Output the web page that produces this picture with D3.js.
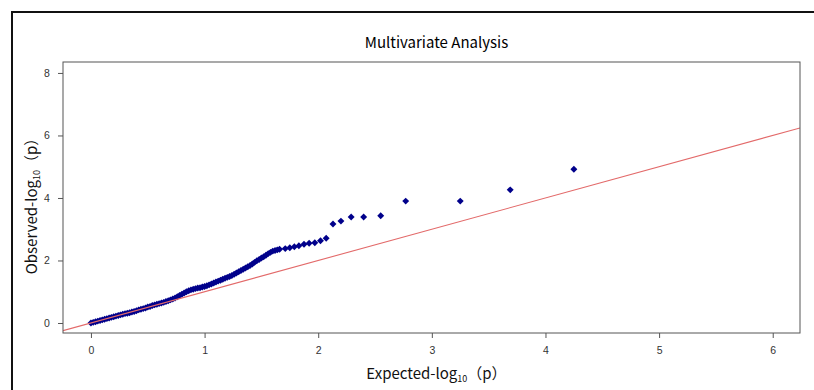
<!DOCTYPE html>
<html><head><meta charset="utf-8">
<script src="https://cdn.jsdelivr.net/npm/d3@7"></script>
<style>body{margin:0;background:#fff;}svg{display:block;}</style>
</head><body>
<svg id="c" width="814" height="390"></svg>
<script>
const titleText = "Multivariate Analysis";
const xTicks = [0, 1, 2, 3, 4, 5, 6];
const yTicks = [0, 2, 4, 6, 8];
// Expected -log10(p)
const expected = [0.00,0.02,0.04,0.06,0.08,0.10,0.12,0.14,0.16,0.18,0.20,0.22,0.24,0.26,0.28,0.30,0.32,0.34,0.36,0.38,0.40,0.42,0.44,0.46,0.48,0.50,0.52,0.54,0.56,0.58,0.60,0.62,0.64,0.66,0.68,0.70,0.72,0.74,0.76,0.78,0.80,0.82,0.84,0.86,0.88,0.90,0.92,0.94,0.96,0.98,1.00,1.02,1.04,1.06,1.08,1.10,1.12,1.14,1.16,1.18,1.20,1.22,1.24,1.26,1.28,1.30,1.32,1.34,1.36,1.38,1.40,1.42,1.44,1.46,1.48,1.50,1.52,1.54,1.56,1.58,1.60,1.62,1.64,1.66,1.71,1.75,1.79,1.83,1.875,1.92,1.97,2.02,2.07,2.13,2.20,2.29,2.40,2.55,2.77,3.25,3.69,4.25];
// Observed -log10(p)
const observed = [0.00,0.02,0.04,0.06,0.08,0.10,0.12,0.14,0.16,0.18,0.20,0.22,0.24,0.26,0.28,0.30,0.31,0.33,0.35,0.37,0.39,0.42,0.44,0.46,0.48,0.51,0.53,0.56,0.58,0.60,0.62,0.64,0.66,0.69,0.71,0.74,0.77,0.80,0.84,0.88,0.92,0.96,1.00,1.03,1.06,1.08,1.10,1.12,1.13,1.15,1.17,1.19,1.22,1.25,1.28,1.31,1.34,1.37,1.40,1.43,1.46,1.49,1.52,1.56,1.60,1.64,1.68,1.72,1.76,1.80,1.84,1.89,1.94,1.99,2.03,2.08,2.12,2.17,2.22,2.26,2.30,2.32,2.34,2.36,2.38,2.41,2.44,2.47,2.52,2.55,2.57,2.63,2.71,3.17,3.26,3.39,3.39,3.43,3.90,3.90,4.26,4.92];
const xDomain = [-0.246, 6.24];
const yDomain = [-0.32, 8.35];

const svg = d3.select("#c");
const L = 63, R = 800, T = 62, B = 333;
const x = d3.scaleLinear().domain(xDomain).range([L, R]);
const y = d3.scaleLinear().domain(yDomain).range([B, T]);

// outer frame
svg.append("rect").attr("x", 12).attr("y", 12).attr("width", 820).attr("height", 400)
  .attr("fill", "none").attr("stroke", "#111").attr("stroke-width", 2);

// title
svg.append("text").attr("x", (L + R) / 2 + 5).attr("y", 48).attr("text-anchor", "middle")
  .attr("font-family", "'Noto Sans CJK SC', 'Noto Sans', sans-serif").attr("font-size", 15)
  .attr("fill", "#000").text(titleText);

// clip
svg.append("clipPath").attr("id", "clip").append("rect")
  .attr("x", L).attr("y", T).attr("width", R - L).attr("height", B - T);

const pts = expected.map((e, i) => ({e, o: observed[i]}));
const g = svg.append("g").attr("clip-path", "url(#clip)");
const sym = d3.symbol().type(d3.symbolSquare).size(24);
g.selectAll("path.pt").data(pts).join("path").attr("class", "pt")
  .attr("d", sym)
  .attr("transform", d => `translate(${x(d.e)},${y(d.o)}) rotate(45)`)
  .attr("fill", "#00008B");

// y = x reference line
g.append("line")
  .attr("x1", x(xDomain[0])).attr("y1", y(xDomain[0]))
  .attr("x2", x(xDomain[1])).attr("y2", y(xDomain[1]))
  .attr("stroke", "#E36A6A").attr("stroke-width", 1.1);

// box
svg.append("rect").attr("x", L).attr("y", T).attr("width", R - L).attr("height", B - T)
  .attr("fill", "none").attr("stroke", "#555").attr("stroke-width", 1);

// axes
const xa = svg.append("g").attr("transform", `translate(0,${B})`)
  .call(d3.axisBottom(x).tickValues(xTicks).tickSize(5).tickPadding(9).tickFormat(d3.format("d")));
const ya = svg.append("g").attr("transform", `translate(${L},0)`)
  .call(d3.axisLeft(y).tickValues(yTicks).tickSize(5).tickPadding(9).tickFormat(d3.format("d")));
[xa, ya].forEach(a => {
  a.select(".domain").remove();
  a.selectAll("line").attr("stroke", "#555");
  a.selectAll("text").attr("font-family", "Arial, 'Liberation Sans', sans-serif")
    .attr("font-size", 10.5).attr("fill", "#333");
});
ya.selectAll("text").attr("text-anchor", "middle").attr("dx", "-0.2em");

// axis titles
const lab = "'Noto Sans CJK SC', 'Noto Sans', sans-serif";
const xt = svg.append("text").attr("x", (L + R) / 2 + 5).attr("y", 379).attr("text-anchor", "middle")
  .attr("font-family", lab).attr("font-size", 15).attr("fill", "#111");
xt.append("tspan").text("Expected-log");
xt.append("tspan").attr("font-size", 9).attr("dy", 3).text("10");
xt.append("tspan").attr("dy", -3).text("（p）");

const yt = svg.append("text").attr("transform", `translate(37,${(T + B) / 2 + 5}) rotate(-90)`)
  .attr("text-anchor", "middle").attr("font-family", lab).attr("font-size", 15).attr("fill", "#111");
yt.append("tspan").text("Observed-log");
yt.append("tspan").attr("font-size", 9).attr("dy", 3).text("10");
yt.append("tspan").attr("dy", -3).text("（p）");
</script>
</body></html>
